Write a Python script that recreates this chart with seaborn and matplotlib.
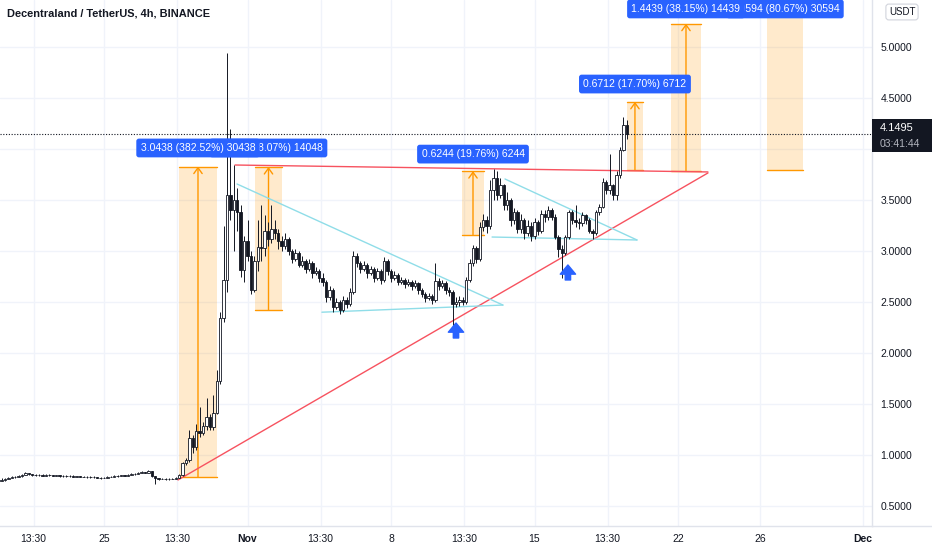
import numpy as np
import pandas as pd
import matplotlib
matplotlib.use('Agg')
import matplotlib.pyplot as plt
import seaborn as sns
from matplotlib.patches import Rectangle

# ---- data (4h candles) ----
first_candle = '2021-10-20 00:00'
ref_day = pd.Timestamp('2021-10-25')
first_open = 0.750

closes = [
    # Oct 20 - Oct 28 (flat)
    0.755, 0.765, 0.770, 0.780, 0.785, 0.790, 0.805, 0.820, 0.810, 0.800,
    0.805, 0.800, 0.798, 0.803, 0.800, 0.797, 0.800, 0.795, 0.792, 0.790,
    0.793, 0.788, 0.790, 0.786, 0.788, 0.784, 0.785, 0.780, 0.778, 0.775,
    0.778, 0.782, 0.785, 0.790, 0.795, 0.800, 0.798, 0.805, 0.810, 0.815,
    0.825, 0.830, 0.828, 0.840, 0.790, 0.770, 0.765, 0.768, 0.762, 0.765,
    0.768, 0.775,
    # pump
    0.80, 0.92, 0.95, 1.17, 1.08, 1.24, 1.22, 1.28, 1.37, 1.27,
    1.41, 1.73, 2.34, 2.72, 3.55, 3.40, 3.50, 3.38, 2.81, 3.10,
    2.95, 2.62, 2.90, 3.04, 3.03, 3.20, 3.12, 3.22, 3.18, 3.10,
    # first triangle
    3.05, 3.12, 3.00, 2.92, 2.98, 2.86, 2.90, 2.82, 2.88, 2.78,
    2.80, 2.74, 2.70, 2.55, 2.62, 2.45, 2.50, 2.42, 2.52, 2.48,
    2.60, 2.95, 2.88, 2.82, 2.86, 2.78, 2.82, 2.74, 2.80, 2.72,
    2.90, 2.80, 2.74, 2.76, 2.70, 2.72, 2.68, 2.70, 2.66, 2.69,
    2.62, 2.58, 2.54, 2.56, 2.52, 2.71, 2.66, 2.69, 2.62, 2.60,
    2.48, 2.50,
    # second leg
    2.52, 2.50, 2.72, 2.88, 3.03, 2.92, 3.24, 3.30, 3.25, 3.60,
    3.72, 3.55, 3.65, 3.45, 3.50, 3.30, 3.38, 3.22, 3.30, 3.18,
    3.25, 3.15, 3.28, 3.20, 3.36, 3.33, 3.40, 3.33, 3.14, 3.02,
    2.98, 3.14, 3.38, 3.30, 3.28, 3.27, 3.35, 3.30, 3.20, 3.18,
    3.38, 3.43, 3.68, 3.60, 3.65, 3.55, 3.75, 3.99, 4.24, 4.1495,
]

highs = [
    0.770, 0.775, 0.780, 0.790, 0.795, 0.800, 0.810, 0.830, 0.825, 0.815,
    0.815, 0.810, 0.810, 0.810, 0.810, 0.805, 0.805, 0.805, 0.800, 0.800,
    0.800, 0.800, 0.795, 0.795, 0.795, 0.790, 0.790, 0.790, 0.785, 0.785,
    0.785, 0.790, 0.790, 0.800, 0.800, 0.805, 0.805, 0.810, 0.820, 0.820,
    0.830, 0.840, 0.835, 0.850, 0.845, 0.790, 0.775, 0.775, 0.770, 0.775,
    0.775, 0.785,
    0.81, 0.93, 0.97, 1.25, 1.20, 1.30, 1.47, 1.32, 1.56, 1.40,
    1.59, 1.83, 2.40, 3.25, 4.94, 4.20, 3.84, 3.62, 3.45, 3.15,
    3.30, 3.00, 2.95, 3.30, 3.45, 3.35, 3.28, 3.45, 3.30, 3.22,
    3.15, 3.18, 3.14, 3.02, 3.02, 3.00, 2.95, 2.92, 2.92, 2.90,
    2.84, 2.82, 2.78, 2.72, 2.66, 2.64, 2.54, 2.52, 2.56, 2.55,
    2.64, 3.00, 2.98, 2.90, 2.90, 2.88, 2.85, 2.84, 2.83, 2.82,
    2.94, 2.92, 2.82, 2.80, 2.78, 2.75, 2.74, 2.73, 2.72, 2.72,
    2.70, 2.64, 2.60, 2.59, 2.58, 2.88, 2.74, 2.72, 2.71, 2.65,
    2.62, 2.55,
    2.56, 2.55, 2.75, 2.92, 3.06, 3.05, 3.28, 3.36, 3.34, 3.70,
    3.80, 3.78, 3.72, 3.66, 3.58, 3.52, 3.42, 3.40, 3.36, 3.32,
    3.30, 3.28, 3.32, 3.30, 3.40, 3.40, 3.44, 3.42, 3.36, 3.16,
    3.06, 3.16, 3.40, 3.40, 3.45, 3.32, 3.38, 3.36, 3.32, 3.22,
    3.40, 3.46, 3.72, 3.70, 3.95, 3.66, 3.78, 4.02, 4.31, 4.28,
]

lows = [
    0.745, 0.750, 0.760, 0.770, 0.775, 0.780, 0.785, 0.800, 0.800, 0.790,
    0.795, 0.790, 0.790, 0.795, 0.790, 0.790, 0.790, 0.785, 0.785, 0.780,
    0.785, 0.780, 0.780, 0.780, 0.780, 0.775, 0.775, 0.770, 0.770, 0.765,
    0.770, 0.775, 0.780, 0.780, 0.785, 0.790, 0.790, 0.795, 0.800, 0.805,
    0.810, 0.820, 0.820, 0.825, 0.785, 0.720, 0.755, 0.760, 0.755, 0.755,
    0.760, 0.765,
    0.77, 0.79, 0.90, 0.93, 1.02, 1.05, 1.18, 1.20, 1.25, 1.25,
    1.25, 1.40, 1.70, 2.30, 2.60, 3.30, 3.00, 3.20, 2.75, 2.70,
    2.90, 2.58, 2.60, 2.80, 2.90, 2.95, 3.05, 3.08, 3.12, 3.02,
    3.00, 3.02, 2.96, 2.88, 2.90, 2.84, 2.84, 2.78, 2.80, 2.74,
    2.76, 2.70, 2.66, 2.50, 2.52, 2.40, 2.43, 2.38, 2.40, 2.44,
    2.46, 2.58, 2.84, 2.78, 2.80, 2.74, 2.76, 2.70, 2.72, 2.68,
    2.70, 2.76, 2.70, 2.72, 2.67, 2.68, 2.64, 2.66, 2.62, 2.64,
    2.58, 2.55, 2.50, 2.52, 2.48, 2.50, 2.62, 2.64, 2.58, 2.56,
    2.23, 2.45,
    2.46, 2.47, 2.48, 2.70, 2.85, 2.88, 2.90, 3.20, 3.18, 3.22,
    3.50, 3.50, 3.52, 3.40, 3.40, 3.25, 3.26, 3.18, 3.18, 3.12,
    3.15, 3.10, 3.12, 3.16, 3.18, 3.28, 3.30, 3.30, 3.12, 2.94,
    2.74, 2.96, 3.12, 3.26, 3.24, 3.22, 3.25, 3.26, 3.18, 3.12,
    3.16, 3.35, 3.42, 3.56, 3.56, 3.50, 3.50, 3.72, 3.98, 4.10,
]

last_price = 4.1495
countdown = '03:41:44'

# x axis ticks (days from Oct 25)
tick_days = [-3.4375, 0, 3.5625, 7, 10.5625, 14, 17.5625, 21, 24.5625, 28, 32, 37]
tick_labels = ['13:30', '25', '13:30', 'Nov', '13:30', '8', '13:30', '15',
               '13:30', '22', '26', 'Dec']
price_ticks = [0.5, 1.0, 1.5, 2.0, 2.5, 3.0, 3.5, 4.0, 4.5, 5.0]
hidden_tick = 4.0  # sits under the last-price tag

# price range tools: left day, right day, base, top
range_left = [3.66, 7.37, 17.46, 25.51, 27.66, 32.34]
range_right = [5.51, 8.68, 18.54, 26.29, 29.12, 34.10]
range_base = [0.784, 2.419, 3.160, 3.792, 3.785, 3.7925]
range_top = [3.828, 3.824, 3.784, 4.463, 5.229, 6.852]
range_text = ['3.0438 (382.52%) 30438', '1.4048 (58.07%) 14048',
              '0.6244 (19.76%) 6244', '0.6712 (17.70%) 6712',
              '1.4439 (38.15%) 14439', '3.0594 (80.67%) 30594']
range_label_y = [4.01, 4.01, 3.95, 4.637, 5.373, 5.373]
range_label_z = [9, 8, 8, 8, 9, 8]

# trend lines: day0, price0, day1, price1
red_lines = [(3.61, 0.755, 29.46, 3.765), (6.39, 3.843, 29.46, 3.775)]
cyan_lines = [(6.49, 3.657, 19.46, 2.47), (10.63, 2.40, 19.46, 2.47),
              (19.56, 3.706, 26.0, 3.108), (18.93, 3.137, 26.0, 3.108)]

# up arrows: day, bottom price, top price
arrow_day = [17.17, 22.63]
arrow_bottom = [2.147, 2.716]
arrow_top = [2.294, 2.863]

# ---- style ----
sns.set_theme(style='white')
plt.rcParams['font.family'] = ['Liberation Sans', 'DejaVu Sans']
TXT = '#131722'
GRID = '#f0f3fa'
BORDER = '#e0e3eb'
ORANGE = '#ff9800'
BLUE = '#2962ff'

W, H = 932, 550
fig = plt.figure(figsize=(W / 100, H / 100), dpi=100)
ax_right, ax_bottom = 872, 526
ax = fig.add_axes([0, 1 - ax_bottom / H, ax_right / W, ax_bottom / H])

times = pd.date_range(first_candle, periods=len(closes), freq='4h')
x = ((times - ref_day) / pd.Timedelta(days=1)).to_numpy()
c = np.array(closes)
o = np.array([first_open] + closes[:-1])
hi = np.maximum(np.array(highs), np.maximum(o, c))
lo = np.minimum(np.array(lows), np.minimum(o, c))
up = c >= o

# range boxes
for i in range(len(range_left)):
    l, r, b, t = range_left[i], range_right[i], range_base[i], range_top[i]
    ax.add_patch(Rectangle((l, b), r - l, t - b, facecolor=ORANGE, alpha=0.2,
                           edgecolor='none', zorder=1))
    ax.plot([l, r], [b, b], color=ORANGE, lw=1, zorder=2)
    ax.plot([l, r], [t, t], color=ORANGE, lw=1, zorder=2)
    mid = (l + r) / 2
    ax.annotate('', xy=(mid, t), xytext=(mid, b),
                arrowprops=dict(arrowstyle='->,head_width=0.25,head_length=0.35',
                                color=ORANGE, lw=1, shrinkA=0, shrinkB=0),
                zorder=2)

# trend lines
for d0, p0, d1, p1 in red_lines:
    sns.lineplot(x=[d0, d1], y=[p0, p1], ax=ax, color='#f7525f', lw=1, zorder=2)
for d0, p0, d1, p1 in cyan_lines:
    sns.lineplot(x=[d0, d1], y=[p0, p1], ax=ax, color='#8fdde8', lw=1, zorder=2)

# candles
ax.vlines(x, lo, hi, color=TXT, lw=0.7, zorder=3)
bw = 0.12
ax.bar(x[up], (c - o)[up], bottom=o[up], width=bw, color='white',
       edgecolor=TXT, lw=0.6, zorder=4)
ax.bar(x[~up], (c - o)[~up], bottom=o[~up], width=bw, color=TXT,
       edgecolor=TXT, lw=0.6, zorder=4)

# last price line
ax.axhline(last_price, color=TXT, ls=(0, (1, 1.5)), lw=0.8, zorder=5)

# arrows
for d, b, t in zip(arrow_day, arrow_bottom, arrow_top):
    ax.annotate('', xy=(d, t), xytext=(d, b),
                arrowprops=dict(arrowstyle='simple,head_width=1.0,head_length=0.6,tail_width=0.35',
                                color=BLUE, mutation_scale=11, shrinkA=0, shrinkB=0),
                zorder=6)

# range labels
for i in range(len(range_text)):
    ax.text((range_left[i] + range_right[i]) / 2, range_label_y[i], range_text[i],
            ha='center', va='center', color='white', fontsize=7.5,
            zorder=range_label_z[i],
            bbox=dict(boxstyle='round,pad=0.42,rounding_size=0.25', fc=BLUE, ec='none'))

# axes
ax.set_xlim(-104 / 20.5, (ax_right - 104) / 20.5)
ax.set_ylim(5 - (ax_bottom - 47) / 102, 5 + 47 / 102)
ax.set_xticks(tick_days)
ax.set_xticklabels(tick_labels)
for lbl in ax.get_xticklabels():
    if lbl.get_text() in ('Nov', 'Dec'):
        lbl.set_fontweight('bold')
ax.yaxis.tick_right()
ax.set_yticks(price_ticks)
ax.set_yticklabels(['' if p == hidden_tick else f'{p:.4f}' for p in price_ticks])
ax.tick_params(axis='y', length=0, pad=6, labelsize=7.5, labelcolor=TXT)
ax.tick_params(axis='x', length=0, pad=6, labelsize=7.5, labelcolor=TXT)
ax.grid(True, color=GRID, lw=1)
ax.set_axisbelow(True)
for s in ['top', 'left']:
    ax.spines[s].set_visible(False)
for s in ['bottom', 'right']:
    ax.spines[s].set_color(BORDER)
    ax.spines[s].set_linewidth(1)

ax.text(7 / ax_right, 1 - 14 / ax_bottom, 'Decentraland / TetherUS, 4h, BINANCE',
        transform=ax.transAxes, ha='left', va='center', fontsize=7.9,
        fontweight='bold', color=TXT)

# bottom border under price scale
fig.add_artist(plt.Line2D([ax_right / W, 1], [1 - ax_bottom / H] * 2,
                          transform=fig.transFigure, color=BORDER, lw=1))

# last price tag
fig.add_artist(Rectangle((ax_right / W, 1 - 152 / H), 60 / W, 33 / H,
                         transform=fig.transFigure, facecolor=TXT, edgecolor='none'))
fig.text(880 / W, 1 - 128 / H, f'{last_price:.4f}', color='white', fontsize=8,
         ha='left', va='center')
fig.text(880 / W, 1 - 144 / H, countdown, color='#b2b5be', fontsize=7.5,
         ha='left', va='center')

fig.text(902 / W, 1 - 12 / H, 'USDT', color=TXT, fontsize=7, ha='center', va='center',
         bbox=dict(boxstyle='round,pad=0.3,rounding_size=0.3', fc='white', ec='#d1d4dc', lw=0.8))

fig.savefig('out.png', dpi=100)
